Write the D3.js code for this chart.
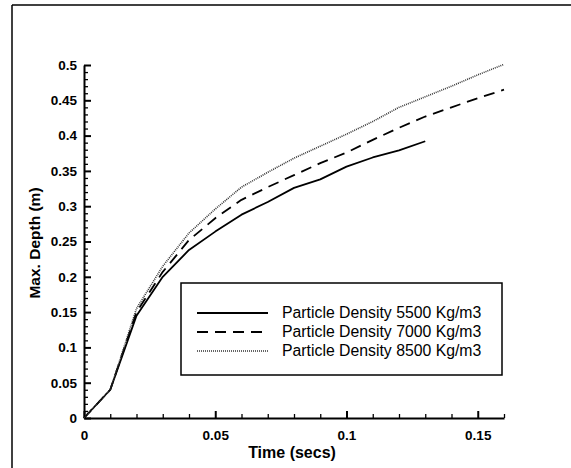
<!DOCTYPE html>
<html>
<head>
<meta charset="utf-8">
<script src="https://cdn.jsdelivr.net/npm/d3@7"></script>
<style>
  body { margin: 0; background: #fff; }
  text { font-family: "Liberation Sans", Arial, sans-serif; fill: #000; }
</style>
</head>
<body>
<div id="chart"></div>
<script>
// time samples (secs)
var time_5500 = [0, 0.01, 0.02, 0.03, 0.04, 0.05, 0.06, 0.07, 0.08, 0.09, 0.1, 0.11, 0.12, 0.13];
var time_long = [0, 0.01, 0.02, 0.03, 0.04, 0.05, 0.06, 0.07, 0.08, 0.09, 0.1, 0.11, 0.12, 0.13, 0.14, 0.15, 0.16];

// max depth (m) per particle density
var depth_5500 = [0, 0.04, 0.145, 0.2, 0.238, 0.264, 0.288, 0.306, 0.326, 0.338, 0.356, 0.369, 0.379, 0.392];
var depth_7000 = [0, 0.04, 0.15, 0.207, 0.252, 0.283, 0.309, 0.327, 0.344, 0.361, 0.376, 0.394, 0.411, 0.427, 0.44, 0.453, 0.465];
var depth_8500 = [0, 0.04, 0.155, 0.215, 0.262, 0.296, 0.327, 0.348, 0.368, 0.385, 0.402, 0.42, 0.44, 0.455, 0.47, 0.486, 0.501];

var series_names = ["Particle Density 5500 Kg/m3", "Particle Density 7000 Kg/m3", "Particle Density 8500 Kg/m3"];

var x_major = [0, 0.05, 0.1, 0.15];
var y_major = [0, 0.05, 0.1, 0.15, 0.2, 0.25, 0.3, 0.35, 0.4, 0.45, 0.5];

var setWidth = 571, setHeight = 468;

var svg = d3.select("#chart").append("svg")
    .attr("width", setWidth)
    .attr("height", setHeight);

// scanned page edges
svg.append("line").attr("x1", 12).attr("y1", 5).attr("x2", 571).attr("y2", 5)
    .attr("stroke", "#000").attr("stroke-width", 1.5);
svg.append("line").attr("x1", 12).attr("y1", 5).attr("x2", 12).attr("y2", 468)
    .attr("stroke", "#000").attr("stroke-width", 1.5);

var x = d3.scaleLinear().domain([0, 0.16]).range([84, 504]);
var y = d3.scaleLinear().domain([0, 0.5]).range([418, 65]);

var fmt = function (d) { return d === 0 ? "0" : String(+d.toFixed(2)); };

// minor ticks
var x_minor = d3.range(0, 0.1601, 0.01).filter(function (d) { return x_major.indexOf(+d.toFixed(2)) < 0; });
var y_minor = d3.range(0, 0.5001, 0.01).filter(function (d) { return y_major.indexOf(+d.toFixed(2)) < 0; });

svg.append("g")
    .attr("transform", "translate(0,418)")
    .call(d3.axisBottom(x).tickValues(x_minor).tickSize(-4).tickFormat(""))
    .call(function (g) { g.select(".domain").remove(); g.selectAll("line").attr("stroke-width", 1.3); });

svg.append("g")
    .attr("transform", "translate(84,0)")
    .call(d3.axisLeft(y).tickValues(y_minor).tickSize(-4).tickFormat(""))
    .call(function (g) { g.select(".domain").remove(); g.selectAll("line").attr("stroke-width", 1.3); });

// major ticks + labels
var xAxis = svg.append("g")
    .attr("transform", "translate(0,418)")
    .call(d3.axisBottom(x).tickValues(x_major).tickSizeInner(-7).tickSizeOuter(0).tickPadding(12).tickFormat(fmt));
xAxis.select(".domain").attr("stroke-width", 2);
xAxis.selectAll("line").attr("stroke-width", 2);
xAxis.selectAll("text").attr("font-size", 13.5).attr("font-weight", "bold").attr("fill", "#000");

var yAxis = svg.append("g")
    .attr("transform", "translate(84,0)")
    .call(d3.axisLeft(y).tickValues(y_major).tickSizeInner(-7).tickSizeOuter(0).tickPadding(7).tickFormat(fmt));
yAxis.select(".domain").attr("stroke-width", 2);
yAxis.selectAll("line").attr("stroke-width", 2);
yAxis.selectAll("text").attr("font-size", 13.5).attr("font-weight", "bold").attr("fill", "#000");

// axis titles
svg.append("text")
    .attr("x", 292).attr("y", 458)
    .attr("text-anchor", "middle")
    .attr("font-size", 16).attr("font-weight", "bold")
    .text("Time (secs)");

svg.append("text")
    .attr("transform", "translate(40,243) rotate(-90)")
    .attr("text-anchor", "middle")
    .attr("font-size", 15.5).attr("font-weight", "bold")
    .text("Max. Depth (m)");

// lines
var styles = [
    {dash: null, width: 1.8, color: "#000"},
    {dash: "11,7", width: 1.8, color: "#000"},
    {dash: "1,1", width: 1.6, color: "#333"}
];
var series = [
    d3.zip(time_5500, depth_5500),
    d3.zip(time_long, depth_7000),
    d3.zip(time_long, depth_8500)
];

var line = d3.line()
    .x(function (d) { return x(d[0]); })
    .y(function (d) { return y(d[1]); });

series.forEach(function (s, i) {
    svg.append("path")
        .datum(s)
        .attr("d", line)
        .attr("fill", "none")
        .attr("stroke", styles[i].color)
        .attr("stroke-width", styles[i].width)
        .attr("stroke-dasharray", styles[i].dash)
        .attr("stroke-linejoin", "round");
});

// legend
var legend = svg.append("g");
legend.append("rect")
    .attr("x", 181).attr("y", 283).attr("width", 321).attr("height", 92)
    .attr("fill", "#fff").attr("stroke", "#000").attr("stroke-width", 1.5);

series_names.forEach(function (name, i) {
    var ly = 313 + i * 19;
    legend.append("line")
        .attr("x1", 197).attr("x2", 268).attr("y1", ly).attr("y2", ly)
        .attr("stroke", styles[i].color)
        .attr("stroke-width", styles[i].width)
        .attr("stroke-dasharray", styles[i].dash);
    legend.append("text")
        .attr("x", 282).attr("y", ly + 5)
        .attr("font-size", 15.8)
        .text(name);
});
</script>
</body>
</html>
